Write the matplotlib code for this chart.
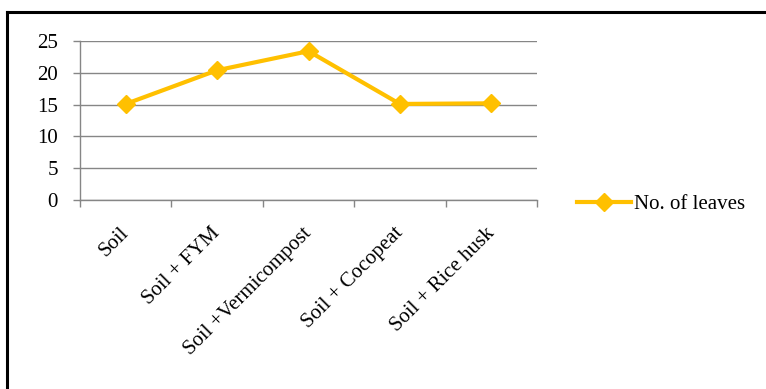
import matplotlib.pyplot as plt
from matplotlib.lines import Line2D
from matplotlib.transforms import ScaledTranslation

# growing media and mean number of leaves
treatments = ["Soil", "Soil + FYM", "Soil +Vermicompost", "Soil + Cocopeat", "Soil + Rice husk"]
leaves = [15.1, 20.4, 23.4, 15.1, 15.2]
yticks = [0, 5, 10, 15, 20, 25]

plt.rcParams["font.family"] = ["Liberation Serif", "DejaVu Serif"]
gold = "#FFC000"
grey = "#868686"
fs = 15

fig = plt.figure(figsize=(7.66, 3.89), dpi=100, facecolor="white")
ax = fig.add_axes([80 / 766, 1 - 200 / 389, 457 / 766, 159 / 389])

x = [i + 0.5 for i in range(len(treatments))]
ax.plot(x, leaves, color=gold, linewidth=3, marker="D", markersize=9,
        label="No. of leaves", zorder=3)

ax.set_xlim(0, len(treatments))
ax.set_ylim(0, 25)
ax.set_yticks(yticks)
ax.grid(axis="y", color=grey, linewidth=1)
ax.set_axisbelow(True)

# category borders carry the tick marks, labels sit at the centres
ax.set_xticks(range(len(treatments) + 1))
ax.set_xticklabels([])
ax.set_xticks(x, minor=True)
ax.set_xticklabels(treatments, minor=True, rotation=45, ha="right", va="top")
ax.tick_params(axis="x", which="minor", length=0, pad=17, labelsize=fs)
ax.tick_params(axis="x", which="major", length=5, color=grey, width=1)
ax.tick_params(axis="y", length=5, color=grey, width=1, labelsize=fs, pad=11)
shift = ScaledTranslation(7 / 100, 0, fig.dpi_scale_trans)
for lbl in ax.get_xticklabels(minor=True):
    lbl.set_transform(lbl.get_transform() + shift)

for side in ["top", "right"]:
    ax.spines[side].set_visible(False)
for side in ["left", "bottom"]:
    ax.spines[side].set_color(grey)
    ax.spines[side].set_linewidth(1)

fig.legend(loc="center left", bbox_to_anchor=(577 / 766, 1 - 204 / 389),
           frameon=False, fontsize=fs, handlelength=2.6, handletextpad=0.15,
           borderpad=0, borderaxespad=0)

# black frame on the left and top edges
fig.add_artist(Line2D([7 / 766, 7 / 766], [0, 1 - 12 / 389], color="black",
                      linewidth=2.2, transform=fig.transFigure))
fig.add_artist(Line2D([7 / 766, 1], [1 - 12 / 389, 1 - 12 / 389], color="black",
                      linewidth=2.2, transform=fig.transFigure))

fig.savefig("out.png", dpi=100, facecolor="white")
